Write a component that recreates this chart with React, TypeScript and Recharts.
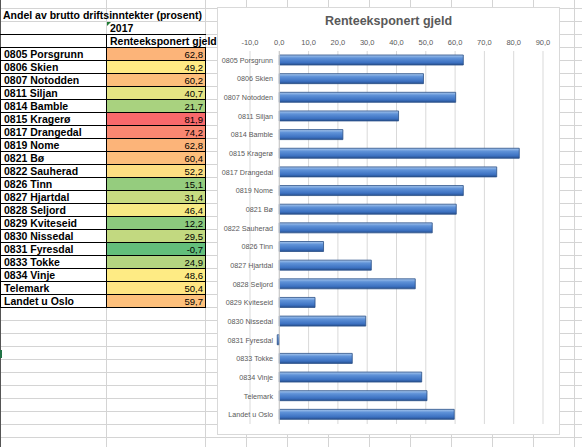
import { BarChart, Bar, XAxis, YAxis, CartesianGrid, ReferenceLine } from "recharts";

const kommuner = [
  "0805 Porsgrunn",
  "0806 Skien",
  "0807 Notodden",
  "0811 Siljan",
  "0814 Bamble",
  "0815 Kragerø",
  "0817 Drangedal",
  "0819 Nome",
  "0821 Bø",
  "0822 Sauherad",
  "0826 Tinn",
  "0827 Hjartdal",
  "0828 Seljord",
  "0829 Kviteseid",
  "0830 Nissedal",
  "0831 Fyresdal",
  "0833 Tokke",
  "0834 Vinje",
  "Telemark",
  "Landet u Oslo",
];

const renteeksponertGjeld = [
  62.8, 49.2, 60.2, 40.7, 21.7, 81.9, 74.2, 62.8, 60.4, 52.2,
  15.1, 31.4, 46.4, 12.2, 29.5, -0.7, 24.9, 48.6, 50.4, 59.7,
];

const verdiTicks = [-10, 0, 10, 20, 30, 40, 50, 60, 70, 80, 90];

const tabellTittel = "Andel av brutto driftsinntekter (prosent)";
const aar = "2017";
const serieNavn = "Renteeksponert gjeld";

const data = kommuner.map((name, i) => ({ name, value: renteeksponertGjeld[i] }));

const komma = (v: number) => v.toFixed(1).replace(".", ",");

// Excel-style 3-colour scale: green (min) - yellow (50th percentile) - red (max)
const sorted = [...renteeksponertGjeld].sort((a, b) => a - b);
const minV = sorted[0];
const maxV = sorted[sorted.length - 1];
const midPos = (sorted.length - 1) * 0.5;
const midV = sorted[Math.floor(midPos)] + (sorted[Math.ceil(midPos)] - sorted[Math.floor(midPos)]) * (midPos - Math.floor(midPos));
const mix = (a: number[], b: number[], t: number) =>
  `rgb(${a.map((c, i) => Math.round(c + (b[i] - c) * t)).join(",")})`;
const fargeskala = (v: number) => {
  const green = [99, 190, 123];
  const yellow = [255, 235, 132];
  const red = [248, 105, 107];
  if (v <= midV) return mix(green, yellow, (v - minV) / (midV - minV));
  return mix(yellow, red, (v - midV) / (maxV - midV));
};

// category labels sit next to the 0-axis, inside the plot area (Excel "next to axis")
const KategoriTick = (props: any) => {
  const { x, y, payload } = props;
  return (
    <text x={x + 23} y={y} dy="0.35em" textAnchor="end" fontSize={7.2} fill="#595959">
      {payload.value}
    </text>
  );
};

const ROW = 13;
const FIRST_ROW = 8;
const kolonner = [106, 205, 246, 287, 328, 369, 410, 451, 492, 533, 574];

export default function App() {
  const radLinjer = [];
  for (let y = FIRST_ROW; y < 447; y += ROW) radLinjer.push(y);
  const dataTop = FIRST_ROW + ROW * 3;

  return (
    <div
      style={{
        position: "absolute",
        left: 0,
        top: 0,
        width: 582,
        height: 447,
        overflow: "hidden",
        background: "#fff",
        fontFamily: "'Liberation Sans', Arial, sans-serif",
      }}
    >
      {/* spreadsheet gridlines */}
      {radLinjer.map((y) => (
        <div key={"r" + y} style={{ position: "absolute", left: 0, top: y, width: 582, height: 1, background: "#d4d4d4" }} />
      ))}
      {kolonner.map((x) => (
        <div key={"c" + x} style={{ position: "absolute", left: x, top: 0, width: 1, height: 447, background: "#d4d4d4" }} />
      ))}
      <div style={{ position: "absolute", left: 0, top: 0, width: 1, height: 447, background: "#555" }} />
      <div style={{ position: "absolute", left: 0, top: 350, width: 2, height: 8, background: "#217346" }} />

      {/* header rows */}
      <div style={{ position: "absolute", left: 3, top: FIRST_ROW, height: ROW, lineHeight: ROW + 1 + "px", fontSize: 10.5, fontWeight: 700, whiteSpace: "nowrap" }}>
        {tabellTittel}
      </div>
      <div style={{ position: "absolute", left: 110, top: FIRST_ROW + ROW, height: ROW, lineHeight: ROW + 1 + "px", fontSize: 10.5, fontWeight: 700 }}>
        {aar}
      </div>
      <div
        style={{
          position: "absolute",
          left: 107,
          top: FIRST_ROW + ROW + 1,
          width: 0,
          height: 0,
          borderTop: "4px solid #1e7b34",
          borderRight: "4px solid transparent",
        }}
      />
      <div style={{ position: "absolute", left: 0, top: FIRST_ROW + ROW * 2, width: 206, height: 1, background: "#000" }} />
      <div style={{ position: "absolute", left: 106, top: FIRST_ROW + ROW * 2, width: 1, height: ROW, background: "#000" }} />
      <div style={{ position: "absolute", left: 110, top: FIRST_ROW + ROW * 2, height: ROW, lineHeight: ROW + 1 + "px", fontSize: 10.5, fontWeight: 700, whiteSpace: "nowrap" }}>
        {serieNavn}
      </div>

      {/* data rows */}
      {kommuner.map((k, i) => (
        <div key={k}>
          <div
            style={{
              position: "absolute",
              left: 0,
              top: dataTop + i * ROW,
              width: 106,
              height: ROW,
              borderTop: "1px solid #000",
              borderLeft: "1px solid #000",
              boxSizing: "border-box",
              background: "#fff",
              paddingLeft: 3,
              lineHeight: ROW + "px",
              fontSize: 10.5,
              fontWeight: 700,
              whiteSpace: "nowrap",
            }}
          >
            {k}
          </div>
          <div
            style={{
              position: "absolute",
              left: 106,
              top: dataTop + i * ROW,
              width: 100,
              height: ROW,
              borderTop: "1px solid #000",
              borderLeft: "1px solid #000",
              borderRight: "1px solid #000",
              boxSizing: "border-box",
              background: fargeskala(renteeksponertGjeld[i]),
              paddingRight: 2,
              textAlign: "right",
              lineHeight: ROW + "px",
              fontSize: 9.5,
            }}
          >
            {komma(renteeksponertGjeld[i])}
          </div>
        </div>
      ))}
      <div style={{ position: "absolute", left: 0, top: dataTop + kommuner.length * ROW, width: 206, height: 1, background: "#000" }} />

      {/* chart object */}
      <div
        style={{
          position: "absolute",
          left: 217,
          top: 7,
          width: 343,
          height: 428,
          border: "1px solid #d9d9d9",
          boxSizing: "border-box",
          background: "#fff",
        }}
      >
        <div
          style={{
            position: "absolute",
            left: 0,
            right: 0,
            top: 6,
            textAlign: "center",
            fontSize: 12.5,
            fontWeight: 700,
            color: "#595959",
          }}
        >
          {serieNavn}
        </div>
        <BarChart
          width={341}
          height={426}
          data={data}
          layout="vertical"
          margin={{ top: 29, right: 16, bottom: 10, left: 31 }}
          barSize={10}
        >
          <defs>
            <linearGradient id="sylinder" x1="0" y1="0" x2="0" y2="1">
              <stop offset="0%" stopColor="#a9c8ee" />
              <stop offset="30%" stopColor="#5f92d8" />
              <stop offset="75%" stopColor="#3d72c2" />
              <stop offset="100%" stopColor="#27508f" />
            </linearGradient>
          </defs>
          <CartesianGrid horizontal={false} stroke="#d9d9d9" />
          <XAxis
            type="number"
            orientation="top"
            domain={[-10, 90]}
            ticks={verdiTicks}
            interval={0}
            height={14}
            tickSize={0}
            tickMargin={6}
            axisLine={false}
            tickLine={false}
            tickFormatter={komma}
            tick={{ fontSize: 7.5, fill: "#595959" }}
          />
          <XAxis
            xAxisId="bunn"
            type="number"
            orientation="bottom"
            domain={[-10, 90]}
            height={0}
            tick={false}
            tickLine={false}
            axisLine={{ stroke: "#d9d9d9" }}
          />
          <YAxis
            type="category"
            dataKey="name"
            width={1}
            interval={0}
            axisLine={false}
            tickLine={false}
            tickSize={0}
            tickMargin={0}
            tick={<KategoriTick />}
          />
          <ReferenceLine x={0} stroke="#c8c8c8" />
          <Bar dataKey="value" fill="url(#sylinder)" stroke="#2a4f86" strokeWidth={0.8} isAnimationActive={false} />
        </BarChart>
      </div>
    </div>
  );
}
